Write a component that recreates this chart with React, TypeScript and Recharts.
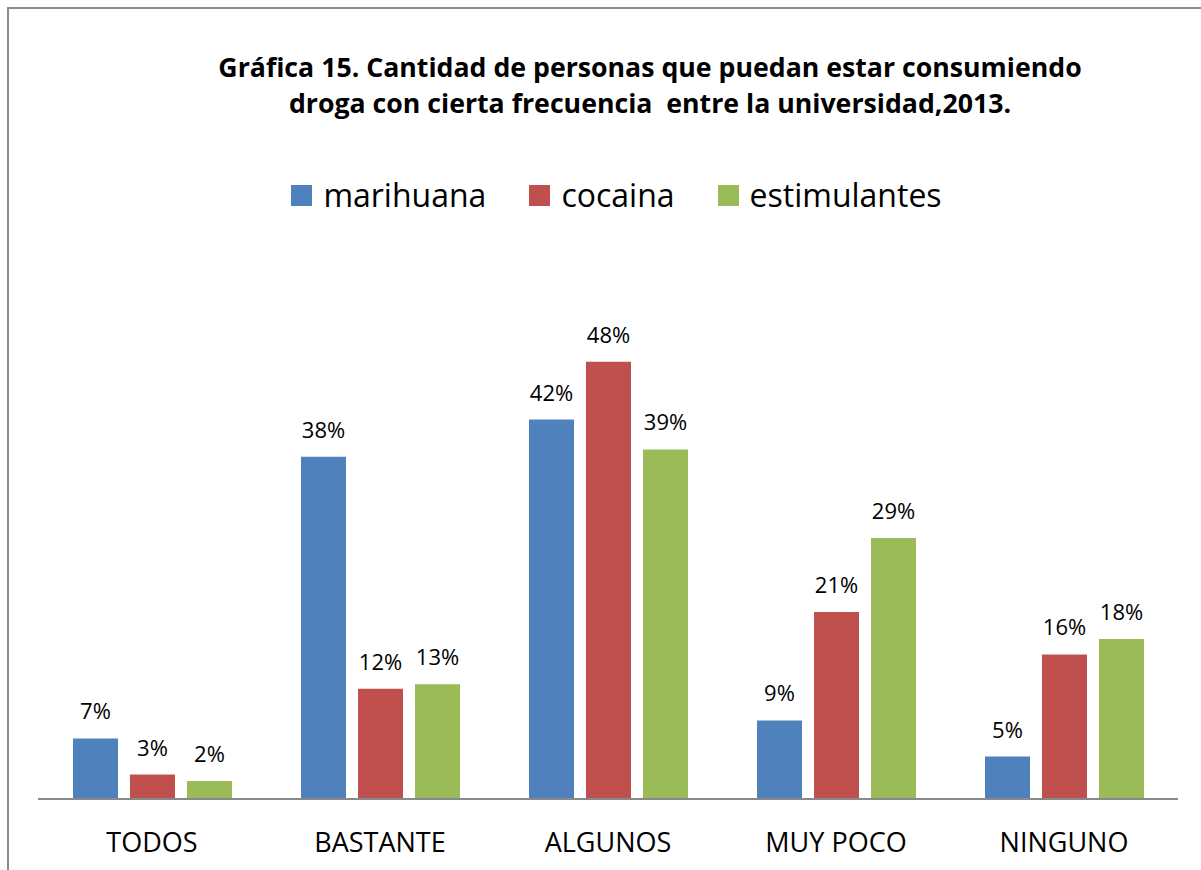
import React from "react";
import { BarChart, Bar, XAxis, YAxis, LabelList } from "recharts";

// categories and series values (percent)
const categories = ["TODOS", "BASTANTE", "ALGUNOS", "MUY POCO", "NINGUNO"];
const marihuana = [6.7, 37.9, 42.0, 8.7, 4.7];
const cocaina = [2.7, 12.2, 48.4, 20.7, 16.0];
const estimulantes = [2.0, 12.7, 38.7, 28.9, 17.7];

const SERIES = [
  { key: "marihuana", color: "#4F81BD" },
  { key: "cocaina", color: "#C0504D" },
  { key: "estimulantes", color: "#9BBB59" },
];

const FONT = "'Open Sans', 'DejaVu Sans', sans-serif";

const chartData = categories.map((name, i) => ({
  name,
  marihuana: marihuana[i],
  cocaina: cocaina[i],
  estimulantes: estimulantes[i],
}));

const pct = (v: any) => `${Math.round(Number(v))}%`;

// legend drawn outside the chart so it does not shrink the plot area
const ChartLegend = () => (
  <div
    style={{
      position: "absolute",
      top: 174,
      left: 30,
      width: 1173,
      display: "flex",
      justifyContent: "center",
      alignItems: "center",
      gap: 43,
      fontSize: 32,
      color: "#000",
    }}
  >
    {SERIES.map((s) => (
      <div key={s.key} style={{ display: "flex", alignItems: "center", gap: 11 }}>
        <span style={{ width: 21, height: 21, background: s.color, display: "inline-block" }} />
        <span style={{ lineHeight: "42px" }}>{s.key}</span>
      </div>
    ))}
  </div>
);

export default function App() {
  return (
    <div
      style={{
        position: "fixed",
        top: 0,
        left: 0,
        width: 1201,
        height: 870,
        overflow: "hidden",
        background: "#fff",
        fontFamily: FONT,
      }}
    >
      {/* chart frame, only top and left edges are visible */}
      <div
        style={{
          position: "absolute",
          left: 7,
          top: 7,
          width: 1300,
          height: 1000,
          borderTop: "2px solid #8c8c8c",
          borderLeft: "2px solid #8c8c8c",
        }}
      />
      <div
        style={{
          position: "absolute",
          top: 49,
          left: 100,
          width: 1100,
          textAlign: "center",
          fontWeight: 700,
          fontSize: 26.7,
          lineHeight: "36px",
          color: "#000",
          whiteSpace: "pre",
        }}
      >
        {"Gráfica 15. Cantidad de personas que puedan estar consumiendo\ndroga con cierta frecuencia  entre la universidad,2013."}
      </div>
      <ChartLegend />
      <div style={{ position: "absolute", top: 0, left: 0 }}>
        <BarChart
          width={1201}
          height={870}
          data={chartData}
          margin={{ top: 257, right: 23, left: 38, bottom: 31 }}
          barGap={12}
          barSize={45}
        >
          <XAxis
            dataKey="name"
            stroke="#898989"
            strokeWidth={2}
            tickLine={false}
            tickSize={6}
            tickMargin={28}
            height={40}
            tick={{ fontSize: 27, fill: "#000" }}
          />
          <YAxis hide domain={[0, 60]} />
          {SERIES.map((s) => (
            <Bar key={s.key} dataKey={s.key} fill={s.color} isAnimationActive={false}>
              <LabelList
                dataKey={s.key}
                position="top"
                offset={19}
                formatter={pct}
                style={{ fontSize: 22, fill: "#000" }}
              />
            </Bar>
          ))}
        </BarChart>
      </div>
    </div>
  );
}
